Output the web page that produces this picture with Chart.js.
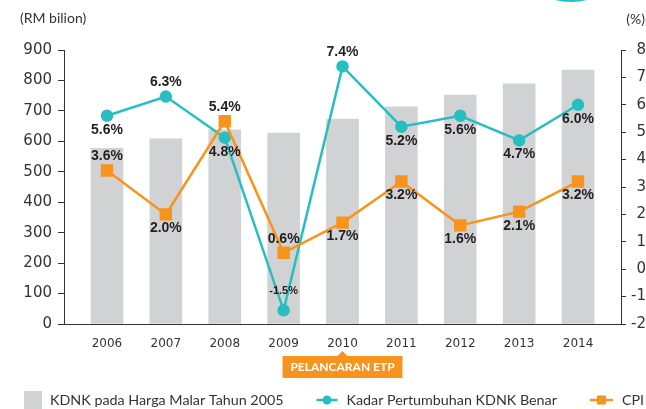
<!DOCTYPE html>
<html lang="ms">
  <head>
    <meta charset="UTF-8" />
    <title>KDNK dan CPI 2006-2014</title>
    <script src="https://cdn.jsdelivr.net/npm/chart.js"></script>
    <style>
      body { margin: 0; background: #fff; }
      #wrap { width: 646px; height: 409px; }
    </style>
  </head>
  <body>
    <div id="wrap">
      <canvas id="c"></canvas>
    </div>
    <script>
      // data
      const years = [2006, 2007, 2008, 2009, 2010, 2011, 2012, 2013, 2014];
      const kdnk = [577, 608, 638, 627, 673, 713, 752, 789, 834]; // RM bilion
      const kdnkGrowth = [5.6, 6.3, 4.8, -1.5, 7.4, 5.2, 5.6, 4.7, 6.0]; // %
      const cpi = [3.6, 2.0, 5.4, 0.6, 1.7, 3.2, 1.6, 2.1, 3.2]; // %
      const seriesNames = ["KDNK pada Harga Malar Tahun 2005", "Kadar Pertumbuhan KDNK Benar", "CPI"];
      const etpYear = 2010;
      const etpText = "PELANCARAN ETP";

      const GREY = "#d1d2d4";
      const TEAL = "#27bec1";
      const ORANGE = "#f7941d";
      const INK = "#231f20";

      // where each value label sits relative to its point
      const growthLabelPos = ["below", "above", "below", "above", "above", "below", "below", "below", "below"];
      const cpiLabelPos = ["above", "below", "above", "above", "below", "below", "below", "below", "below"];

      const valueLabels = {
        id: "valueLabels",
        afterDatasetsDraw(chart) {
          const ctx = chart.ctx;
          ctx.save();
          ctx.textAlign = "center";
          ctx.textBaseline = "middle";
          ctx.fillStyle = INK;
          [[1, growthLabelPos], [2, cpiLabelPos]].forEach(([di, pos]) => {
            const meta = chart.getDatasetMeta(di);
            const vals = chart.data.datasets[di].data;
            meta.data.forEach((pt, i) => {
              const v = vals[i].y;
              const small = v < 0;
              ctx.font = (small ? "bold 11px" : "bold 14px") + " 'Liberation Sans', Arial, sans-serif";
              const dy = pos[i] === "above" ? (small ? -19 : -14) : 14;
              ctx.fillText(v.toFixed(1) + "%", pt.x, pt.y + dy);
            });
          });
          ctx.restore();
        },
      };

      const extras = {
        id: "extras",
        afterDraw(chart) {
          const ctx = chart.ctx;
          const xs = chart.scales.x;
          ctx.save();

          // teal blob cut by the top edge
          ctx.fillStyle = TEAL;
          ctx.beginPath();
          ctx.arc(571, -63, 65, 0, Math.PI * 2);
          ctx.fill();

          // unit captions
          ctx.fillStyle = "#333";
          ctx.font = "14px Lato, sans-serif";
          ctx.textBaseline = "middle";
          ctx.textAlign = "left";
          ctx.fillText("(RM bilion)", 20, 18);
          ctx.textAlign = "right";
          ctx.fillText("(%)", 645, 19);

          // ETP launch callout
          const cx = xs.getPixelForValue(etpYear);
          ctx.fillStyle = ORANGE;
          ctx.fillRect(cx - 60, 356, 120, 22);
          ctx.beginPath();
          ctx.moveTo(cx - 5, 356);
          ctx.lineTo(cx, 351);
          ctx.lineTo(cx + 5, 356);
          ctx.closePath();
          ctx.fill();
          ctx.fillStyle = "#fff";
          ctx.font = "bold 12px Lato, sans-serif";
          ctx.textAlign = "center";
          ctx.fillText(etpText, cx, 367.5);

          // legend
          const ly = 400;
          ctx.font = "14.3px Lato, sans-serif";
          ctx.textAlign = "left";
          let x = 24;
          ctx.fillStyle = GREY;
          ctx.fillRect(x, ly - 9, 18, 18);
          x += 26;
          ctx.fillStyle = "#333";
          ctx.fillText(seriesNames[0], x, ly);
          x += ctx.measureText(seriesNames[0]).width + 33;

          ctx.strokeStyle = TEAL;
          ctx.lineWidth = 2.5;
          ctx.beginPath();
          ctx.moveTo(x, ly);
          ctx.lineTo(x + 21, ly);
          ctx.stroke();
          ctx.fillStyle = TEAL;
          ctx.beginPath();
          ctx.arc(x + 10.5, ly, 4.5, 0, Math.PI * 2);
          ctx.fill();
          x += 30;
          ctx.fillStyle = "#333";
          ctx.fillText(seriesNames[1], x, ly);
          x += ctx.measureText(seriesNames[1]).width + 33;

          ctx.strokeStyle = ORANGE;
          ctx.beginPath();
          ctx.moveTo(x, ly);
          ctx.lineTo(x + 23, ly);
          ctx.stroke();
          ctx.fillStyle = ORANGE;
          ctx.fillRect(x + 7, ly - 4.5, 9, 9);
          x += 32;
          ctx.fillStyle = "#333";
          ctx.fillText(seriesNames[2], x, ly);

          ctx.restore();
        },
      };

      const tickFont = { family: "'DejaVu Sans', sans-serif", size: 15 };

      new Chart(document.getElementById("c"), {
        data: {
          datasets: [
            {
              type: "bar",
              label: seriesNames[0],
              data: years.map((y, i) => ({ x: y, y: kdnk[i] })),
              backgroundColor: GREY,
              barThickness: 32,
              yAxisID: "y",
              order: 3,
            },
            {
              type: "line",
              label: seriesNames[1],
              data: years.map((y, i) => ({ x: y, y: kdnkGrowth[i] })),
              borderColor: TEAL,
              backgroundColor: TEAL,
              borderWidth: 2.5,
              pointStyle: "circle",
              pointRadius: 5,
              tension: 0,
              yAxisID: "y2",
              order: 2,
            },
            {
              type: "line",
              label: seriesNames[2],
              data: years.map((y, i) => ({ x: y, y: cpi[i] })),
              borderColor: ORANGE,
              backgroundColor: ORANGE,
              borderWidth: 2.5,
              pointStyle: "rect",
              pointRadius: 7,
              tension: 0,
              yAxisID: "y2",
              order: 1,
            },
          ],
        },
        options: {
          responsive: true,
          maintainAspectRatio: false,
          animation: false,
          layout: { padding: { top: 50, left: 0, right: 0, bottom: 0 } },
          plugins: { legend: { display: false }, tooltip: { enabled: false } },
          scales: {
            x: {
              type: "linear",
              offset: false,
              min: 2005.27,
              max: 2014.73,
              grid: { drawOnChartArea: false, drawTicks: false, offset: false },
              border: { color: "#333", width: 1 },
              ticks: {
                autoSkip: false,
                maxRotation: 0,
                padding: 13,
                color: "#333",
                font: { family: "'DejaVu Sans', sans-serif", size: 12 },
                callback: (v) => String(v),
              },
              afterBuildTicks: (s) => { s.ticks = years.map((v) => ({ value: v })); },
              afterFit: (s) => { s.height = 85; s.paddingLeft = 0; s.paddingRight = 0; },
            },
            y: {
              position: "left",
              min: 0,
              max: 900,
              grid: { drawOnChartArea: false, tickLength: 6, color: "#333" },
              border: { color: "#333", width: 1 },
              ticks: { stepSize: 100, padding: 6, color: "#333", font: tickFont },
              afterFit: (s) => { s.width = 64; },
            },
            y2: {
              position: "right",
              min: -2,
              max: 8,
              grid: { drawOnChartArea: false, tickLength: 5, color: "#333" },
              border: { color: "#333", width: 1 },
              ticks: { stepSize: 1, padding: 2, crossAlign: "far", color: "#333", font: tickFont },
              afterFit: (s) => { s.width = 25; },
            },
          },
        },
        plugins: [valueLabels, extras],
      });
    </script>
  </body>
</html>
